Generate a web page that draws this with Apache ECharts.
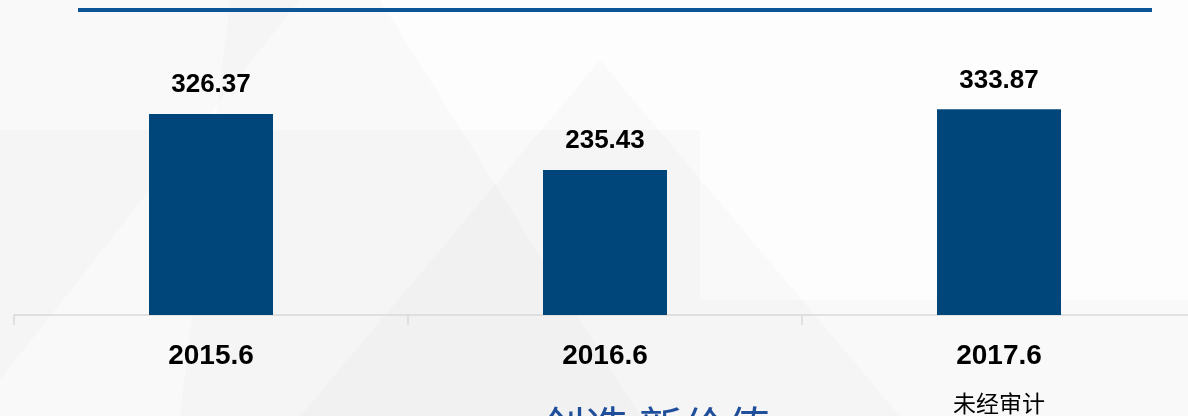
<!DOCTYPE html>
<html>
<head>
<meta charset="utf-8">
<script src="https://cdn.jsdelivr.net/npm/echarts@6/dist/echarts.min.js"></script>
<style>
  html, body { margin: 0; padding: 0; background: #fcfcfc; }
  #chart { width: 1188px; height: 416px; }
</style>
</head>
<body>
<div id="chart"></div>
<script>
// 数据
const categories = ['2015.6', '2016.6', '2017.6']
const values = [326.37, 235.43, 333.87]
const notes = ['', '', '未经审计']

const chart = echarts.init(document.getElementById('chart'))

// 背景三角形（装饰）
const bgShapes = [
  [[0, 0], [300, 0], [0, 380]],
  [[230, 0], [380, 0], [640, 416], [180, 416]],
  [[0, 130], [700, 130], [700, 300], [0, 300]],
  [[600, 60], [900, 416], [300, 416]],
  [[0, 300], [1188, 300], [1188, 416], [0, 416]]
]

chart.setOption({
  backgroundColor: '#fdfdfd',
  animation: false,
  graphic: [
    ...bgShapes.map(pts => ({
      type: 'polygon',
      z: -10,
      silent: true,
      shape: { points: pts },
      style: { fill: 'rgba(0,0,0,0.016)' }
    })),
    {
      type: 'rect',
      z: 10,
      shape: { x: 78, y: 8, width: 1074, height: 4 },
      style: { fill: '#0d5597' }
    },
    {
      type: 'text',
      z: 10,
      left: 541,
      top: 405,
      style: {
        text: '创造 新价值',
        fill: '#1f4e9a',
        font: '44px "Noto Sans CJK SC", sans-serif'
      }
    }
  ],
  grid: {
    left: 14,
    width: 1182,
    top: 68.6,
    bottom: 101,
    outerBoundsMode: 'none'
  },
  xAxis: {
    type: 'category',
    data: categories,
    axisLine: { lineStyle: { color: '#d9d9d9', width: 1.5 } },
    axisTick: { show: true, length: 10, lineStyle: { color: '#d9d9d9', width: 1.5 } },
    axisLabel: {
      margin: 27,
      color: '#000',
      fontFamily: '"Liberation Sans", Arial, sans-serif',
      fontWeight: 'bold',
      fontSize: 28,
      lineHeight: 28,
      formatter: (v, i) => notes[i] ? v + '\n{s|' + notes[i] + '}' : v,
      rich: {
        s: {
          fontFamily: '"Noto Sans CJK SC", sans-serif',
          fontWeight: 'normal',
          fontSize: 23,
          lineHeight: 66,
          color: '#000'
        }
      }
    }
  },
  yAxis: {
    type: 'value',
    min: 0,
    max: 400,
    show: false,
    splitLine: { show: false }
  },
  series: [{
    type: 'bar',
    data: values,
    barWidth: 124,
    itemStyle: { color: '#00467a' },
    label: {
      show: true,
      position: 'top',
      distance: 16,
      color: '#000',
      fontFamily: '"Liberation Sans", Arial, sans-serif',
      fontWeight: 'bold',
      fontSize: 26,
      lineHeight: 26,
      formatter: p => p.value.toFixed(2)
    }
  }]
})
</script>
</body>
</html>
